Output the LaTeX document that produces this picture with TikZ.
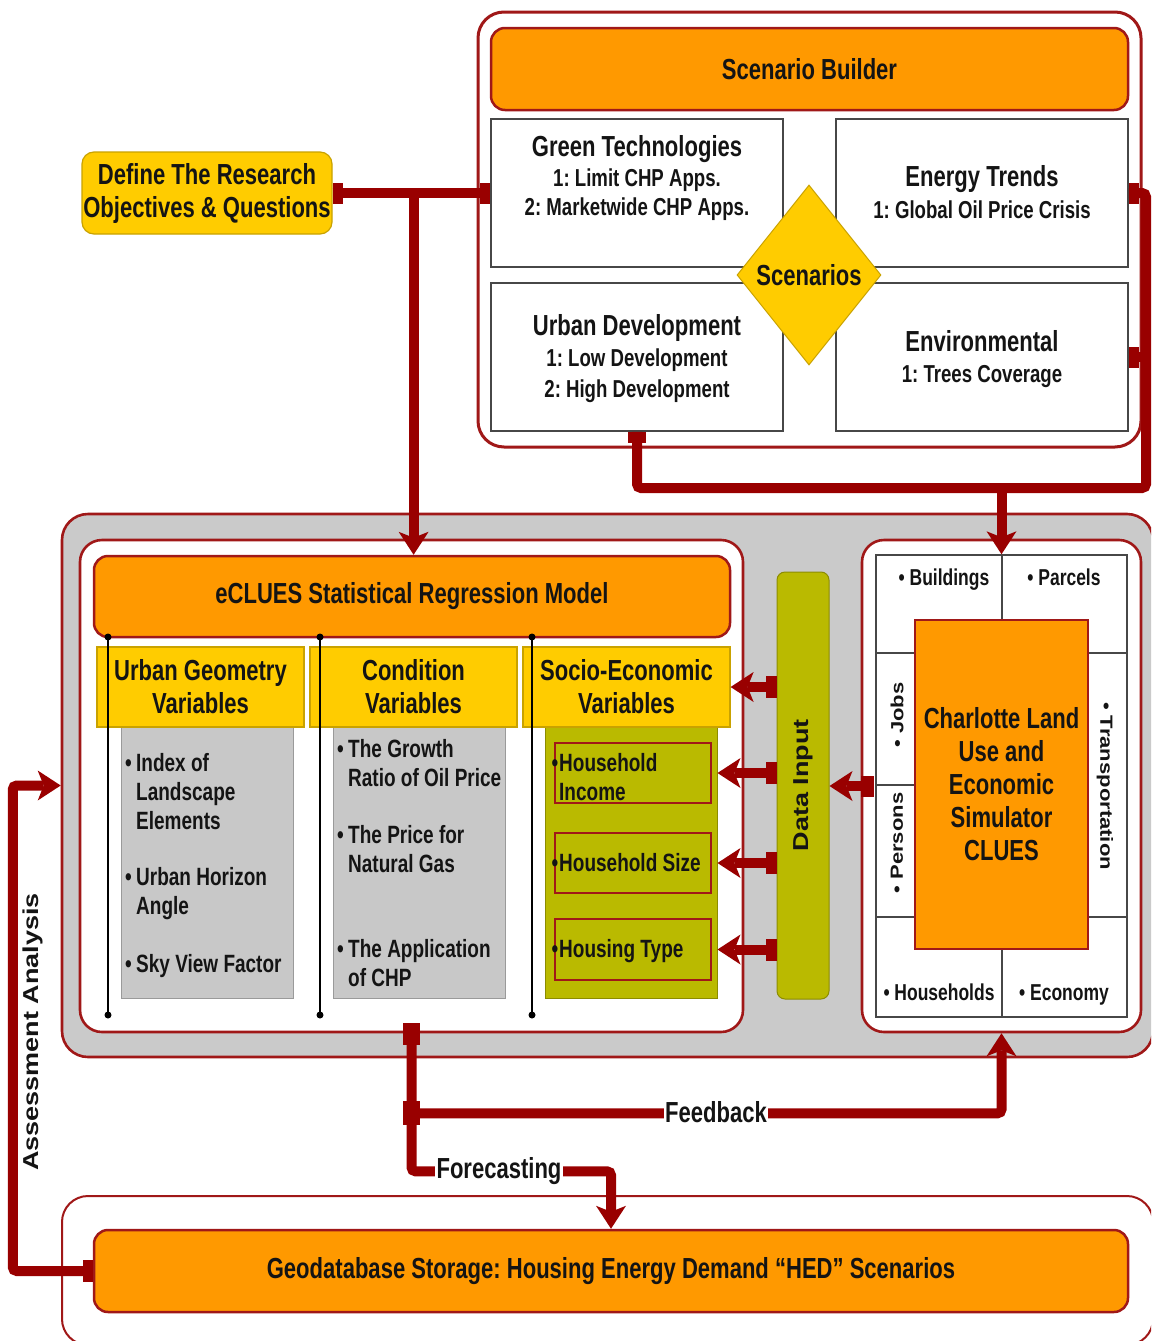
\documentclass[tikz,border=0pt]{standalone}
\usepackage{fontspec}
\usepackage{graphicx}
\setmainfont{Liberation Sans}[FakeStretch=0.76]
\newfontfamily\plainfont{Liberation Sans}
\usetikzlibrary{arrows.meta,shapes.geometric,calc}

\definecolor{flow}{HTML}{990000}
\definecolor{framered}{HTML}{A01818}
\definecolor{orangefill}{HTML}{FF9900}
\definecolor{goldfill}{HTML}{FFCC00}
\definecolor{goldline}{HTML}{C9A200}
\definecolor{olivefill}{HTML}{BABA00}
\definecolor{oliveline}{HTML}{8C8C00}
\definecolor{boxgrey}{HTML}{C8C8C8}
\definecolor{boxgreyline}{HTML}{9A9A9A}
\definecolor{panelgrey}{HTML}{CACACA}
\definecolor{gridline}{HTML}{474747}
\definecolor{ink}{HTML}{141414}

\frenchspacing
\newcommand\fTitle{\fontsize{29}{33}\selectfont\bfseries}
\newcommand\fSub{\fontsize{24.5}{29}\selectfont\bfseries}
\newcommand\fItem{\fontsize{25}{29}\selectfont\bfseries}
\newcommand\fSmall{\fontsize{23}{26}\selectfont\bfseries}
% upright (unstretched) label, squeezed across its lines, for rotated text
\newcommand\uprightlbl[2]{\scalebox{1}[0.8]{\plainfont\bfseries\fontsize{#1}{#1}\selectfont #2}}
% square tab at the start of a flow line: point, dx, dy, width, height
\newcommand\stubat[5]{\fill[flow] ($#1+(#2,#3)+(-#4/2,-#5/2)$) rectangle ++(#4,#5);}
% hanging bullet before an item
\newcommand\hb[1]{\llap{•\hspace{#1}}}

\begin{document}
\begin{tikzpicture}[x=1pt,y=-1pt,
  flowline/.style={draw=flow, line width=10pt},
  tipA/.style={-{Stealth[length=23pt,width=30pt,inset=6pt,line width=0pt]}},
  frameR/.style={draw=framered, line width=2.6pt, inner sep=0pt},
  orangebox/.style={draw=framered, line width=2.5pt, fill=orangefill, rounded corners=14pt, inner sep=0pt, text=ink},
  whitebox/.style={draw=gridline, line width=1.8pt, fill=white, inner sep=0pt, minimum width=292pt, minimum height=148pt},
  goldhdr/.style={draw=goldline, line width=1.2pt, fill=goldfill, minimum width=207pt, minimum height=80pt, align=center, font=\fTitle, inner sep=0pt, text=ink},
  greybox/.style={draw=boxgreyline, line width=1pt, fill=boxgrey, minimum width=172pt, minimum height=271pt, inner sep=0pt},
  itembox/.style={draw=framered, line width=2.2pt, fill=olivefill, minimum width=156pt, inner sep=0pt},
  txt/.style={text=ink, inner sep=0pt},
  item/.style={txt, anchor=north west, align=left, font=\fItem},
  lbl/.style={txt, font=\fSmall, anchor=base},
  tag/.style={text=ink, fill=white, inner sep=1.5pt, font=\fTitle},
  gridrule/.style={draw=gridline, line width=1.5pt},
  colrule/.style={draw=black, line width=1.8pt}]

\useasboundingbox (0,0) rectangle (1151,1341);
\fill[white] (0,0) rectangle (1151,1341);
\clip (0,0) rectangle (1151,1341);

% ---------------- scenario builder ----------------
\node[frameR, line width=3pt, fill=white, rounded corners=26pt, minimum width=663pt, minimum height=435pt] (scenframe) at (809.5,229.5) {};
\node[orangebox, minimum width=637pt, minimum height=82pt, font=\fTitle] (sb) at (809.5,69) {Scenario Builder};
\node[whitebox] (gt) at (637,193) {};
\node[whitebox] (et) at (982,193) {};
\node[whitebox] (ud) at (637,357) {};
\node[whitebox] (env) at (982,357) {};
\node[txt, anchor=base, font=\fTitle] (gtT) at (637,156) {Green Technologies};
\node[txt, anchor=base, font=\fSub] (gt1) at (637,186) {1: Limit CHP Apps.};
\node[txt, anchor=base, font=\fSub] (gt2) at (637,215) {2: Marketwide CHP Apps.};
\node[txt, anchor=base, font=\fTitle] (etT) at (982,186) {Energy Trends};
\node[txt, anchor=base, font=\fSub] (et1) at (982,218) {1: Global Oil Price Crisis};
\node[txt, anchor=base, font=\fTitle] (udT) at (637,335) {Urban Development};
\node[txt, anchor=base, font=\fSub] (ud1) at (637,366) {1: Low Development};
\node[txt, anchor=base, font=\fSub] (ud2) at (637,397) {2: High Development};
\node[txt, anchor=base, font=\fTitle] (envT) at (982,351) {Environmental};
\node[txt, anchor=base, font=\fSub] (env1) at (982,382) {1: Trees Coverage};
\node[diamond, draw=goldline, line width=1pt, fill=goldfill, minimum width=144pt, minimum height=180pt, inner sep=0pt, font=\fTitle, text=ink] (scen) at (809,275) {Scenarios};

% research objectives
\node[draw=goldline, line width=1.2pt, fill=goldfill, rounded corners=12pt, minimum width=250pt, minimum height=82pt, align=center, font=\fTitle, inner sep=0pt, text=ink] (define) at (207,193) {Define The Research\\Objectives \& Questions};

% ---------------- model panel ----------------
\node[frameR, fill=panelgrey, rounded corners=26pt, minimum width=1091pt, minimum height=543pt] (panel) at (607.5,785.5) {};
\node[frameR, fill=white, rounded corners=22pt, minimum width=663pt, minimum height=492pt] (leftframe) at (411.5,786) {};
\node[orangebox, minimum width=636pt, minimum height=81pt, font=\fTitle] (eclues) at (412,596.5) {eCLUES Statistical Regression Model};

\node[greybox] (ugbox) at (207,862.5) {};
\node[greybox] (cvbox) at (419,862.5) {};
\node[greybox, fill=olivefill, draw=oliveline] (sebox) at (631,862.5) {};
\node[itembox, minimum height=60pt] (hi) at (633,773) {};
\node[itembox, minimum height=60pt] (hs) at (633,863) {};
\node[itembox, minimum height=61pt] (ht) at (633,949.5) {};

\node[goldhdr] (ug) at (200.5,687) {Urban Geometry\\Variables};
\node[goldhdr] (cv) at (413.5,687) {Condition\\Variables};
\node[goldhdr] (se) at (626.5,687) {Socio-Economic\\Variables};

% column rules with end dots
\foreach \cx in {108,320,532}{
  \draw[colrule] (\cx,637) -- (\cx,1015);
  \fill (\cx,637) circle (3.5pt);
  \fill (\cx,1015) circle (3.5pt);
}

\node[item] (ug1) at (136,753) {\hb{4.5pt}Index of\\Landscape\\Elements};
\node[item] (ug2) at (136,867) {\hb{4.5pt}Urban Horizon\\Angle};
\node[item] (ug3) at (136,954) {\hb{4.5pt}Sky View Factor};
\node[item] (cv1) at (348,739) {\hb{4.5pt}The Growth\\Ratio of Oil Price};
\node[item] (cv2) at (348,825) {\hb{4.5pt}The Price for\\Natural Gas};
\node[item] (cv3) at (348,939) {\hb{4.5pt}The Application\\of CHP};
\node[item] (se1) at (559,753) {\hb{1pt}Household\\Income};
\node[item] (se2) at (559,853) {\hb{1pt}Household Size};
\node[item] (se3) at (559,939) {\hb{1pt}Housing Type};

% data input bar
\node[draw=oliveline, line width=1pt, fill=olivefill, rounded corners=8pt, minimum width=52pt, minimum height=427pt, inner sep=0pt] (datain) at (803,785.5) {};
\node[txt, rotate=90] (dilbl) at (803,785) {\uprightlbl{27}{Data Input}};

% CLUES simulator
\node[frameR, fill=white, rounded corners=22pt, minimum width=279pt, minimum height=492pt] (clframe) at (1001.5,786) {};
\node[draw=gridline, line width=1.5pt, fill=white, minimum width=251pt, minimum height=462pt, inner sep=0pt] (grid) at (1001.5,786) {};
\draw[gridrule] (1002,555) -- (1002,620);
\draw[gridrule] (1002,949) -- (1002,1017);
\draw[gridrule] (876,653) -- (915,653);
\draw[gridrule] (1088,653) -- (1127,653);
\draw[gridrule] (876,785) -- (915,785);
\draw[gridrule] (876,917) -- (915,917);
\draw[gridrule] (1088,917) -- (1127,917);
\node[draw=framered, line width=2.2pt, fill=orangefill, minimum width=173pt, minimum height=329pt, inner sep=0pt, align=center, font=\fTitle, text=ink] (clues) at (1001.5,784.5) {Charlotte Land\\Use and\\Economic\\Simulator\\CLUES};
\node[lbl] (bld) at (944,585) {• Buildings};
\node[lbl] (prc) at (1064,585) {• Parcels};
\node[lbl] (hh) at (939,1000) {• Households};
\node[lbl] (eco) at (1064,1000) {• Economy};
\node[txt, rotate=90] (jobs) at (897,715) {\uprightlbl{22}{• Jobs}};
\node[txt, rotate=90] (pers) at (897,843) {\uprightlbl{22}{• Persons}};
\node[txt, rotate=-90] (trans) at (1105,786) {\uprightlbl{22}{• Transportation}};

% ---------------- storage ----------------
\node[frameR, line width=2pt, fill=white, rounded corners=26pt, minimum width=1091pt, minimum height=149pt] (storeframe) at (607.5,1270.5) {};
\node[orangebox, minimum width=1034pt, minimum height=82pt, font=\fTitle] (geo) at (611,1271) {Geodatabase Storage: Housing Energy Demand “HED” Scenarios};

% ---------------- connectors ----------------
% objectives to scenario builder and model
\draw[flowline] (define.east) -- (gt.west);
\stubat{(define.east)}{5}{0}{10}{21}
\stubat{(gt.west)}{-5}{0}{10}{21}
\coordinate (tj) at ([xshift=81pt]define.east);
\draw[flowline,tipA] (tj) -- (tj |- eclues.north);

% scenarios to model inputs
\coordinate (rv) at (1146,488);
\draw[flowline, rounded corners=4pt] (et.east) -| (rv) -| (ud.south);
\draw[flowline] (env.east) -- (env.east -| rv);
\stubat{(et.east)}{5}{0}{10}{21}
\stubat{(env.east)}{5}{0}{10}{21}
\stubat{(ud.south)}{0}{5.5}{18}{11}
\draw[flowline,tipA] (rv -| grid.north) -- (grid.north);

% data input to socio-economic variables
\coordinate (a1) at (datain.west |- se.east);
\coordinate (a2) at (datain.west |- hi.east);
\coordinate (a3) at (datain.west |- hs.east);
\coordinate (a4) at (datain.west |- ht.east);
\draw[flowline,tipA] (a1) -- (se.east);
\draw[flowline,tipA] (a2) -- (sebox.east |- a2);
\draw[flowline,tipA] (a3) -- (sebox.east |- a3);
\draw[flowline,tipA] (a4) -- (sebox.east |- a4);
\foreach \p in {a1,a2,a3,a4}{\stubat{(\p)}{-5.5}{0}{11}{22}}
\draw[flowline,tipA] (clframe.west) -- (datain.east |- clframe.west);
\stubat{(clframe.west)}{6.5}{0}{13}{21}

% feedback and forecasting
\coordinate (fbj) at ($(leftframe.south)+(0,80)$);
\coordinate (fcj) at ($(leftframe.south)+(0,138)$);
\draw[flowline,tipA,rounded corners=4pt] (leftframe.south) -- (fcj) -| (geo.north);
\draw[flowline,tipA,rounded corners=4pt] (fbj) -| (clframe.south);
\stubat{(leftframe.south)}{0}{1}{17}{22}
\stubat{(fbj)}{0}{0}{17}{24}
\node[tag] (fbl) at (716,1112) {Feedback};
\node[tag] (fcl) at (499,1171) {Forecasting};

% assessment loop back to the model
\draw[flowline,tipA,rounded corners=4pt] (geo.west) -- ++(-80,0) |- (panel.west);
\stubat{(geo.west)}{-5}{0}{10}{22}
\node[txt, rotate=90] (assess) at (33,1032) {\uprightlbl{27}{Assessment Analysis}};

\end{tikzpicture}
\end{document}
